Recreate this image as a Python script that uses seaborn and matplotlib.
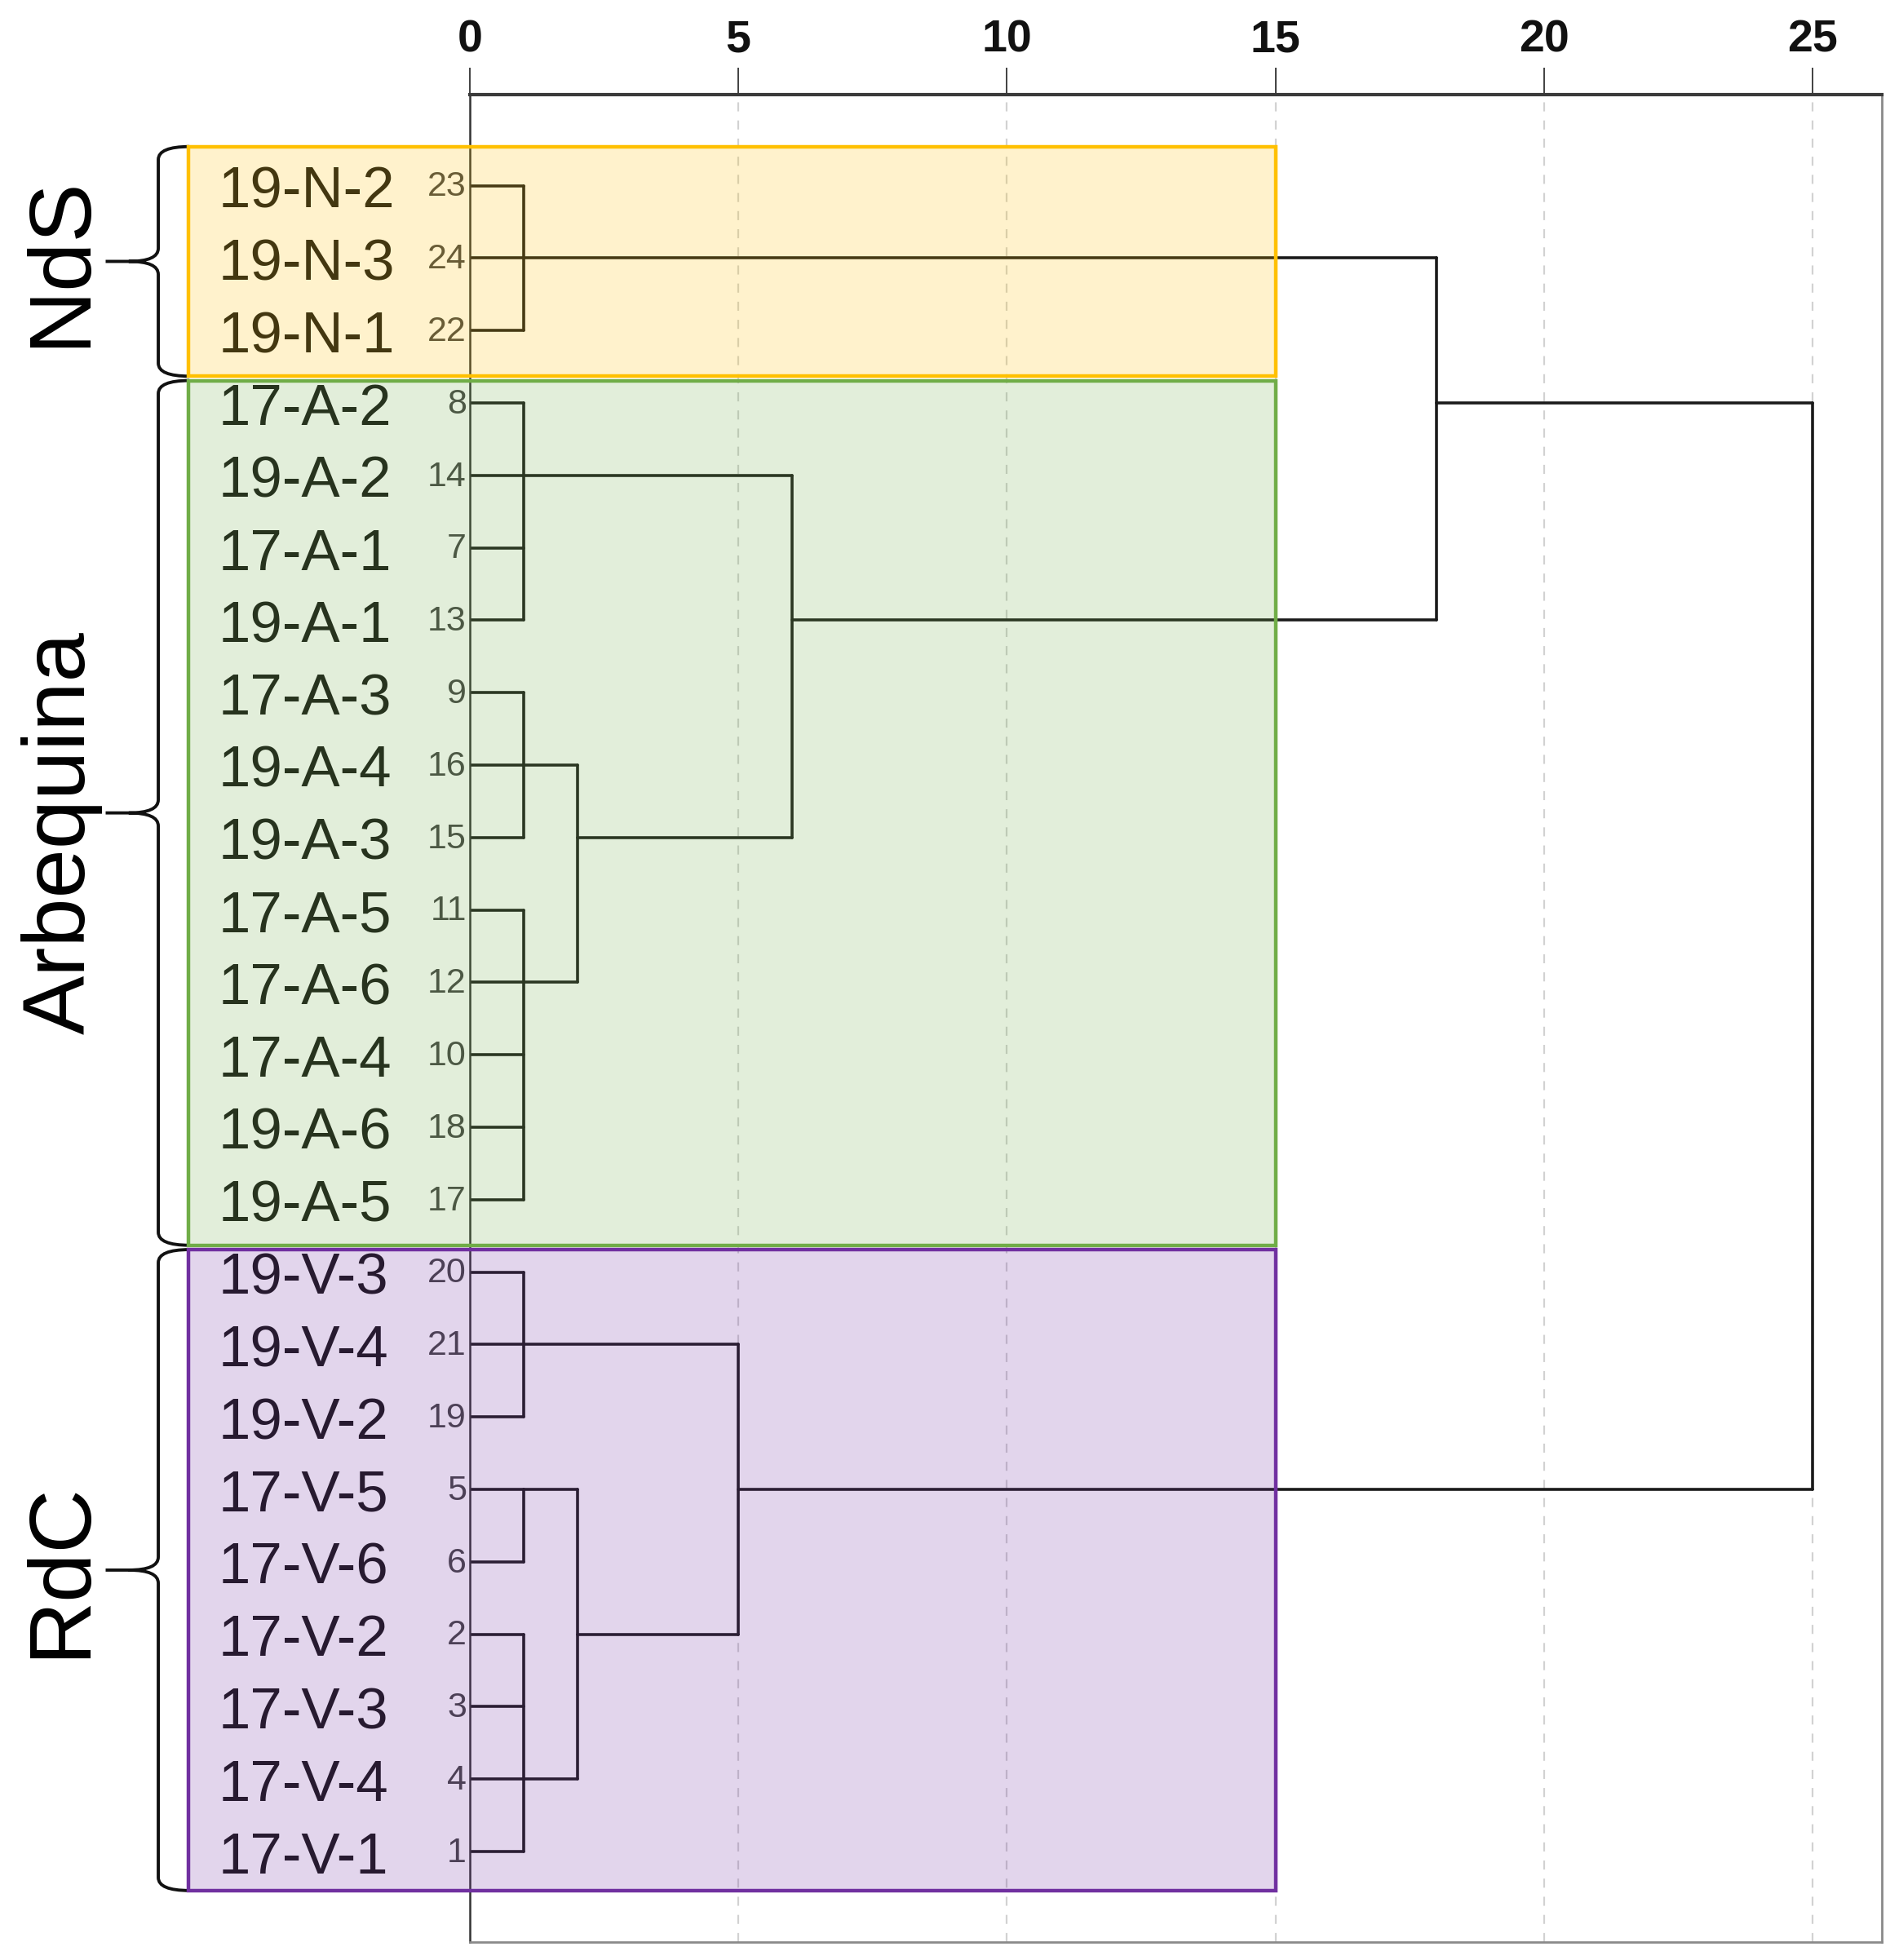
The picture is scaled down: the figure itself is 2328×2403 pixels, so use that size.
import matplotlib.pyplot as plt
import matplotlib.colors as mcolors
import seaborn as sns
import pandas as pd
from matplotlib.patches import Rectangle, PathPatch
from matplotlib.path import Path

sns.set_style('white')
plt.rcParams['font.family'] = ['Liberation Sans', 'DejaVu Sans']

# Leaves of the dendrogram, top to bottom, with their case numbers
leaf_labels = ['19-N-2', '19-N-3', '19-N-1',
               '17-A-2', '19-A-2', '17-A-1', '19-A-1', '17-A-3', '19-A-4', '19-A-3',
               '17-A-5', '17-A-6', '17-A-4', '19-A-6', '19-A-5',
               '19-V-3', '19-V-4', '19-V-2', '17-V-5', '17-V-6', '17-V-2', '17-V-3', '17-V-4', '17-V-1']
case_numbers = [23, 24, 22, 8, 14, 7, 13, 9, 16, 15, 11, 12, 10, 18, 17,
                20, 21, 19, 5, 6, 2, 3, 4, 1]

# Cultivar groups (first and last leaf of every group)
group_names = ['NdS', 'Arbequina', 'RdC']
group_first = [0, 3, 15]
group_last = [2, 14, 23]
group_colors = ['#FFC000', '#70AD47', '#7030A0']

# Merges: children (leaf index or merge name), rescaled distance, row the joined branch leaves from
merge_names = ['N', 'A1', 'A2', 'A3', 'A23', 'A', 'NA', 'V1', 'V2', 'V3', 'V23', 'V', 'ALL']
merge_children = [[0, 1, 2], [3, 4, 5, 6], [7, 8, 9], [10, 11, 12, 13, 14], ['A2', 'A3'],
                  ['A1', 'A23'], ['N', 'A'], [15, 16, 17], [18, 19], [20, 21, 22, 23],
                  ['V2', 'V3'], ['V1', 'V23'], ['NA', 'V']]
merge_dist = [1, 1, 1, 1, 2, 6, 18, 1, 1, 1, 2, 5, 25]
merge_row = [1, 4, 8, 11, 9, 6, 3, 16, 18, 22, 20, 18, None]

x_ticks = [0, 5, 10, 15, 20, 25]


def build_segments():
    """Turn the merge table into a long dataframe of line segments for seaborn."""
    height = {}
    row_of = {}
    rows = []
    seg = 0
    for name, kids, d, r in zip(merge_names, merge_children, merge_dist, merge_row):
        ys = []
        for k in kids:
            if isinstance(k, int):
                x0, y = 0, k
            else:
                x0, y = height[k], row_of[k]
            rows.append((seg, x0, y))
            rows.append((seg, d, y))
            seg += 1
            ys.append(y)
        rows.append((seg, d, min(ys)))
        rows.append((seg, d, max(ys)))
        seg += 1
        height[name] = d
        row_of[name] = r
    return pd.DataFrame(rows, columns=['seg', 'x', 'y'])


def draw_brace(ax, y0, y1, ym, x_end=-5.22, x_body=-5.80, x_join=-6.35, x_tip=-6.78, r=0.18):
    """Draw a curly brace opening to the right, pointing left at ym."""
    verts = [(x_end, y0), (x_body, y0), (x_body, y0 + r),
             (x_body, ym - r),
             (x_body, ym), (x_join, ym),
             (x_body, ym), (x_body, ym + r),
             (x_body, y1 - r),
             (x_body, y1), (x_end, y1),
             (x_join, ym), (x_tip, ym)]
    codes = [Path.MOVETO, Path.CURVE3, Path.CURVE3,
             Path.LINETO,
             Path.CURVE3, Path.CURVE3,
             Path.CURVE3, Path.CURVE3,
             Path.LINETO,
             Path.CURVE3, Path.CURVE3,
             Path.MOVETO, Path.LINETO]
    ax.add_patch(PathPatch(Path(verts, codes), fill=False, edgecolor='#111111', lw=2.8,
                           clip_on=False, zorder=4))


segments = build_segments()

fig = plt.figure(figsize=(23.28, 24.03), dpi=100)
ax = fig.add_axes([0.2474, 0.0092, 0.7436, 0.9426])

# Dashed reference lines
for x in x_ticks[1:]:
    ax.axvline(x, color='#d2d2d2', ls=(0, (5, 5)), lw=1.6, zorder=0.5)

# Dendrogram
sns.lineplot(data=segments, x='x', y='y', units='seg', estimator=None, sort=False,
             color='#1a1a1a', lw=2.6, ax=ax, legend=False, zorder=2)

ax.set_xlim(0, 26.29)
ax.set_ylim(24.25, -1.26)
ax.xaxis.tick_top()
ax.set_xticks(x_ticks)
ax.set_yticks([])
ax.set_xlabel('')
ax.set_ylabel('')
ax.tick_params(axis='x', length=24, width=1.3, color='#333333', labelsize=40, pad=5,
               labelcolor='#111111')
for t in ax.get_xticklabels():
    t.set_fontweight('bold')

ax.spines['top'].set_linewidth(3)
ax.spines['top'].set_color('#3a3a3a')
ax.spines['left'].set_linewidth(1.8)
ax.spines['left'].set_color('#333333')
for s in ['right', 'bottom']:
    ax.spines[s].set_linewidth(2)
    ax.spines[s].set_color('#8a8a8a')

# Leaf labels and case numbers
for i, (lab, num) in enumerate(zip(leaf_labels, case_numbers)):
    ax.text(-4.68, i + 0.1, lab, ha='left', va='center', fontsize=51, color='#151515', zorder=2)
    ax.text(-0.06, i + 0.02, str(num), ha='right', va='center', fontsize=31, color='#444444',
            zorder=2)

# Group boxes, braces and names
n = len(leaf_labels)
edges = [-0.54]
for k in range(1, len(group_first)):
    edges.append((group_last[k - 1] + group_first[k]) / 2 + 0.16)
edges.append(n - 1 + 0.54)

for k, (name, col) in enumerate(zip(group_names, group_colors)):
    top = edges[k] + (0.03 if k > 0 else 0)
    bottom = edges[k + 1] - (0.03 if k < len(group_names) - 1 else 0)
    ax.add_patch(Rectangle((-5.24, top), 15 + 5.24, bottom - top,
                           facecolor=mcolors.to_rgba(col, 0.2), edgecolor=col, lw=3.2,
                           clip_on=False, zorder=5))
    mid = (top + bottom) / 2
    draw_brace(ax, top, bottom, mid)
    # the long Arbequina label sits a little below its brace tip
    label_y = mid + (0.27 if name == 'Arbequina' else 0)
    ax.text(-7.6, label_y, name, rotation=90, ha='center', va='center', fontsize=78,
            color='#000000')

fig.savefig('out.png', dpi=100)
